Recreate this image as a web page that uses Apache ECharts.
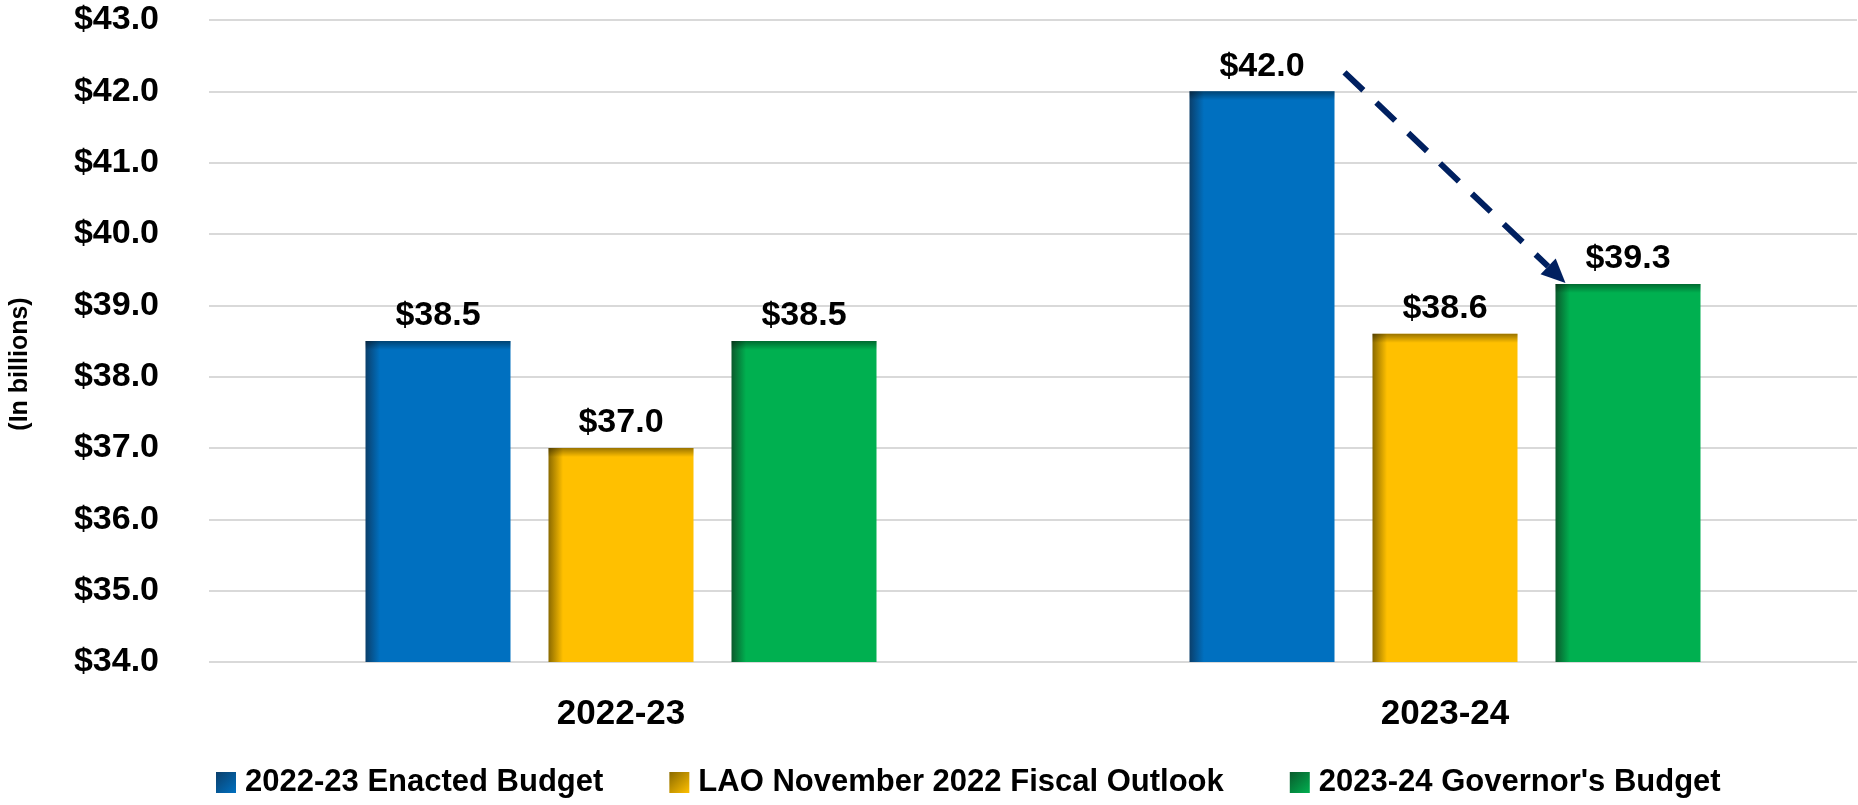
<!DOCTYPE html>
<html>
<head>
<meta charset="utf-8">
<script src="https://cdn.jsdelivr.net/npm/echarts@6/dist/echarts.min.js"></script>
<style>
  html, body { margin: 0; padding: 0; background: #fff; }
  #chart { width: 1858px; height: 805px; }
</style>
</head>
<body>
<div id="chart"></div>
<script>
// data
const categories = ['2022-23', '2023-24']
const seriesNames = ['2022-23 Enacted Budget', 'LAO November 2022 Fiscal Outlook', "2023-24 Governor's Budget"]
const enacted = [38.5, 42.0]
const laoOutlook = [37.0, 38.6]
const governors = [38.5, 39.3]
const yTicks = [34, 35, 36, 37, 38, 39, 40, 41, 42, 43]

const font = "'Liberation Sans Narrow', 'Arial Narrow', 'Liberation Sans', Arial, sans-serif"
const colors = [
    { main: '#0070C0', dark: '#0B3F6B' },
    { main: '#FFC000', dark: '#8A6A00' },
    { main: '#00B050', dark: '#0A5A2C' }
]
const BAR_W = 145
const BAR_GAP = 38
const BAR_GAP_PCT = (BAR_GAP / BAR_W * 100) + '%'

const barFill = c => new echarts.graphic.LinearGradient(0, 0, 1, 0, [
    { offset: 0, color: c.dark },
    { offset: 0.1, color: c.main },
    { offset: 1, color: c.main }
])
const iconFill = c => new echarts.graphic.LinearGradient(0, 0, 1, 1, [
    { offset: 0, color: c.dark },
    { offset: 1, color: c.main }
])

const chart = echarts.init(document.getElementById('chart'))

const makeSeries = (name, values, c) => ({
    name,
    type: 'bar',
    data: values,
    barWidth: BAR_W,
    barGap: BAR_GAP_PCT,
    itemStyle: { color: barFill(c) },
    label: {
        show: true,
        position: 'top',
        distance: 8,
        formatter: p => '$' + p.value.toFixed(1),
        color: '#000',
        fontFamily: font,
        fontWeight: 'bold',
        fontSize: 34
    },
    emphasis: { disabled: true }
})

chart.setOption({
    animation: false,
    grid: { left: 205, right: 1, top: 20, bottom: 143 },
    legend: {
        bottom: 2,
        left: 211,
        itemWidth: 20,
        itemHeight: 21,
        itemGap: 66,
        icon: 'rect',
        textStyle: { fontFamily: font, fontWeight: 'bold', fontSize: 31, color: '#000', padding: [0, 0, 0, 4] },
        data: seriesNames.map((n, i) => ({ name: n, itemStyle: { color: iconFill(colors[i]) } }))
    },
    xAxis: [
        {
            type: 'category',
            data: categories,
            axisLine: { show: false },
            axisTick: { show: false },
            axisLabel: { color: '#000', fontFamily: font, fontWeight: 'bold', fontSize: 35, margin: 35 }
        },
        { type: 'category', data: categories, show: false }
    ],
    yAxis: {
        type: 'value',
        min: yTicks[0],
        max: yTicks[yTicks.length - 1],
        interval: 1,
        name: '(In billions)',
        nameLocation: 'middle',
        nameGap: 176,
        nameTextStyle: {
            fontFamily: "'Liberation Sans', Arial, sans-serif", fontWeight: 'bold', fontSize: 25, color: '#000',
            padding: [0, 46, 0, 0]
        },
        axisLine: { show: false },
        axisTick: { show: false },
        axisLabel: {
            color: '#000', fontFamily: font, fontWeight: 'bold', fontSize: 34, margin: 50,
            formatter: v => '$' + v.toFixed(1)
        },
        splitLine: { lineStyle: { color: '#D9D9D9', width: 2 } }
    },
    series: [
        makeSeries(seriesNames[0], enacted, colors[0]),
        makeSeries(seriesNames[1], laoOutlook, colors[1]),
        makeSeries(seriesNames[2], governors, colors[2])
    ]
})

// dark band along the top of each bar, drawn as an overlay on a hidden axis
const yBase = chart.convertToPixel({ yAxisIndex: 0 }, yTicks[0])
const topShade = values => values.map(v => {
    const h = yBase - chart.convertToPixel({ yAxisIndex: 0 }, v)
    const k = Math.min(1, 9 / h)
    return {
        value: v,
        itemStyle: {
            color: new echarts.graphic.LinearGradient(0, 0, 0, 1, [
                { offset: 0, color: 'rgba(0,0,0,0.4)' },
                { offset: k, color: 'rgba(0,0,0,0)' },
                { offset: 1, color: 'rgba(0,0,0,0)' }
            ])
        }
    }
})
const overlay = (id, values) => ({
    id,
    type: 'bar',
    xAxisIndex: 1,
    data: topShade(values),
    barWidth: BAR_W,
    barGap: BAR_GAP_PCT,
    silent: true,
    z: 3
})

// dashed arrow from the 2023-24 enacted bar to the 2023-24 Governor's bar
const cx = chart.convertToPixel({ xAxisIndex: 0 }, categories[1])
const step = BAR_W + BAR_GAP
const yFrom = chart.convertToPixel({ yAxisIndex: 0 }, enacted[1])
const yTo = chart.convertToPixel({ yAxisIndex: 0 }, governors[1])
const x1 = cx - step + BAR_W / 2 + 10
const y1 = yFrom - 19
const x2 = cx + step - BAR_W / 2 + 10
const y2 = yTo - 1
const ang = Math.atan2(y2 - y1, x2 - x1)
const head = 24
const hw = 11
const bx = x2 - head * Math.cos(ang)
const by = y2 - head * Math.sin(ang)
const nx = -Math.sin(ang), ny = Math.cos(ang)

chart.setOption({
    series: [
        makeSeries(seriesNames[0], enacted, colors[0]),
        makeSeries(seriesNames[1], laoOutlook, colors[1]),
        makeSeries(seriesNames[2], governors, colors[2]),
        overlay('shade0', enacted),
        overlay('shade1', laoOutlook),
        overlay('shade2', governors)
    ],
    graphic: [
        {
            type: 'line',
            shape: { x1, y1, x2: bx, y2: by },
            style: { stroke: '#002060', lineWidth: 6, lineDash: [26, 18] },
            silent: true
        },
        {
            type: 'polygon',
            shape: { points: [[x2, y2], [bx + nx * hw, by + ny * hw], [bx - nx * hw, by - ny * hw]] },
            style: { fill: '#002060' },
            silent: true
        }
    ]
})
</script>
</body>
</html>
